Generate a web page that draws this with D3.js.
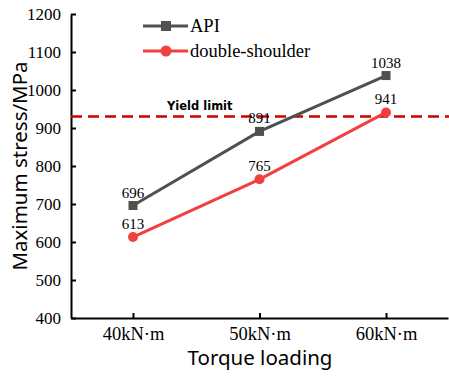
<!DOCTYPE html>
<html><head><meta charset="utf-8">
<script src="https://cdn.jsdelivr.net/npm/d3@7"></script>
<style>body{margin:0;background:#fff}</style>
</head><body>
<svg id="c" width="449" height="376"></svg>
<script>
const categories = ["40kN·m","50kN·m","60kN·m"];
const apiValues = [696, 891, 1038];
const dsValues = [613, 765, 941];
const yTicks = [400,500,600,700,800,900,1000,1100,1200];
const yieldLimit = 930;
const seriesNames = ["API","double-shoulder"];

const svg = d3.select("#c");
const L = 71, R = 448, T = 14, B = 318;
const x = d3.scalePoint().domain(categories).range([L, R]).padding(0.49);
const y = d3.scaleLinear().domain([400,1200]).range([B, T]);
const serif = "'Liberation Serif','Times New Roman',serif";
const sans = "'Noto Sans','DejaVu Sans',sans-serif";

// axes
const ya = svg.append("g").attr("transform",`translate(${L},0)`)
  .call(d3.axisLeft(y).tickValues(yTicks).tickFormat(d3.format("d")).tickSizeInner(-5).tickSizeOuter(0).tickPadding(10));
const xa = svg.append("g").attr("transform",`translate(0,${B})`)
  .call(d3.axisBottom(x).tickSizeInner(-5).tickSizeOuter(0).tickPadding(9));
[ya,xa].forEach(g=>{
  g.selectAll("path").attr("stroke","#000").attr("stroke-width",2);
  g.selectAll("line").attr("stroke","#000").attr("stroke-width",2);
  g.selectAll("text").attr("font-family",serif).attr("fill","#000");
});
ya.selectAll("text").attr("font-size",17);
xa.selectAll("text").attr("font-size",18.5);

// yield limit
svg.append("line").attr("x1",L).attr("x2",449).attr("y1",y(yieldLimit)).attr("y2",y(yieldLimit))
  .attr("stroke","#cc0000").attr("stroke-width",2.5).attr("stroke-dasharray","11,6");
svg.append("text").attr("x",167).attr("y",110).text("Yield limit")
  .attr("font-family","'DejaVu Sans',sans-serif").attr("font-weight","bold").attr("font-size",11.5).attr("fill","#000");

const series = [
  {name:seriesNames[0], vals:apiValues, color:"#505050", shape:"square"},
  {name:seriesNames[1], vals:dsValues, color:"#f04040", shape:"circle"}
];
const line = d3.line().x((d,i)=>x(categories[i])).y(d=>y(d));
series.forEach(s=>{
  svg.append("path").datum(s.vals).attr("d",line).attr("fill","none")
    .attr("stroke",s.color).attr("stroke-width",3);
  s.vals.forEach((v,i)=>{
    const cx=x(categories[i]), cy=y(v);
    if(s.shape==="square") svg.append("rect").attr("x",cx-4.5).attr("y",cy-4.5).attr("width",9).attr("height",9).attr("fill",s.color);
    else svg.append("circle").attr("cx",cx).attr("cy",cy).attr("r",5).attr("fill",s.color);
    svg.append("text").attr("x",cx).attr("y",cy-8).attr("text-anchor","middle")
      .attr("font-family",serif).attr("font-size",15).attr("fill","#000").text(v);
  });
});

// legend
series.forEach((s,i)=>{
  const ly = 26 + i*25;
  svg.append("line").attr("x1",143).attr("x2",188).attr("y1",ly).attr("y2",ly).attr("stroke",s.color).attr("stroke-width",3);
  if(s.shape==="square") svg.append("rect").attr("x",161).attr("y",ly-5).attr("width",10).attr("height",10).attr("fill",s.color);
  else svg.append("circle").attr("cx",166).attr("cy",ly).attr("r",5.5).attr("fill",s.color);
  svg.append("text").attr("x",190).attr("y",ly+6).text(s.name)
    .attr("font-family",serif).attr("font-size",18.5).attr("fill","#000");
});

// axis titles
svg.append("text").attr("x",260).attr("y",365).attr("text-anchor","middle").text("Torque loading")
  .attr("font-family",sans).attr("font-size",20.5).attr("fill","#000");
svg.append("text").attr("transform",`translate(27,${(T+B)/2}) rotate(-90)`).attr("text-anchor","middle")
  .text("Maximum stress/MPa").attr("font-family",sans).attr("font-size",20.5).attr("fill","#000");
</script>
</body></html>
